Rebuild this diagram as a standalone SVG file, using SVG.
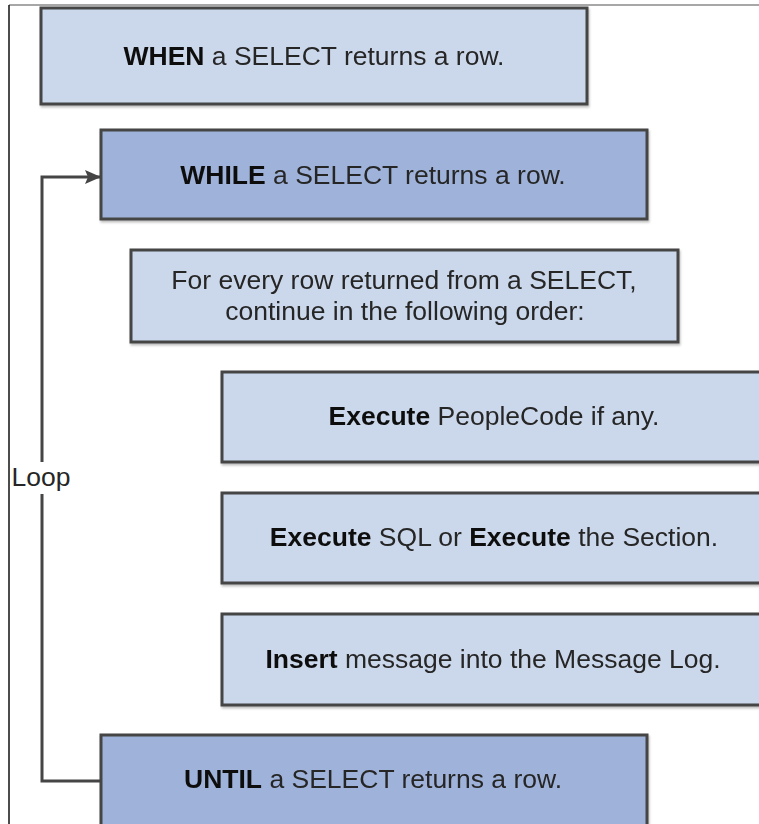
<svg xmlns="http://www.w3.org/2000/svg" width="759" height="824" viewBox="0 0 759 824">
<style>
.box{stroke:#454545;stroke-width:3}
.lt{fill:#cbd8eb}
.dk{fill:#9fb3da}
text{font-family:"Liberation Sans",Arial,sans-serif;font-size:26.5px;fill:#262626;text-anchor:middle}
.b{font-weight:bold;fill:#111}
.conn{fill:none;stroke:#454545;stroke-width:3}
</style>
<defs>
<marker id="arr" markerWidth="16" markerHeight="14" refX="15" refY="7" orient="auto" markerUnits="userSpaceOnUse" viewBox="0 0 16 14">
<path d="M0,0 L16,7 L0,14 L3,7 Z" fill="#454545"/>
</marker>
<filter id="sh" x="-5%" y="-5%" width="110%" height="115%">
<feDropShadow dx="1" dy="2" stdDeviation="1" flood-color="#000" flood-opacity="0.25"/>
</filter>
</defs>
<line x1="9" y1="5" x2="759" y2="5" stroke="#8a8a8a" stroke-width="1.5"/>
<line x1="9" y1="5" x2="9" y2="824" stroke="#111" stroke-width="1.5"/>
<g id="connectors">
<path class="conn" d="M101,781 H42 V494"/>
<path class="conn" d="M42,462 V177 H100" marker-end="url(#arr)"/>
<text x="41" y="486">Loop</text>
</g>
<g id="when" filter="url(#sh)">
<rect class="box lt" x="41" y="8" width="546" height="96"/>
<text x="314" y="65"><tspan class="b">WHEN</tspan> a SELECT returns a row.</text>
</g>
<g id="while" filter="url(#sh)">
<rect class="box dk" x="101" y="130" width="546" height="89"/>
<text x="373" y="184"><tspan class="b">WHILE</tspan> a SELECT returns a row.</text>
</g>
<g id="forevery" filter="url(#sh)">
<rect class="box lt" x="131" y="250" width="547" height="92"/>
<text x="404" y="289">For every row returned from a SELECT,</text>
<text x="405" y="320">continue in the following order:</text>
</g>
<g id="peoplecode" filter="url(#sh)">
<rect class="box lt" x="222" y="372" width="540" height="90"/>
<text x="494" y="425"><tspan class="b">Execute</tspan> PeopleCode if any.</text>
</g>
<g id="sql" filter="url(#sh)">
<rect class="box lt" x="222" y="493" width="540" height="90"/>
<text x="494" y="546"><tspan class="b">Execute</tspan> SQL or <tspan class="b">Execute</tspan> the Section.</text>
</g>
<g id="insert" filter="url(#sh)">
<rect class="box lt" x="222" y="614" width="540" height="91"/>
<text x="493" y="668"><tspan class="b">Insert</tspan> message into the Message Log.</text>
</g>
<g id="until" filter="url(#sh)">
<rect class="box dk" x="101" y="735" width="546" height="100"/>
<text x="373" y="788"><tspan class="b">UNTIL</tspan> a SELECT returns a row.</text>
</g>
</svg>
